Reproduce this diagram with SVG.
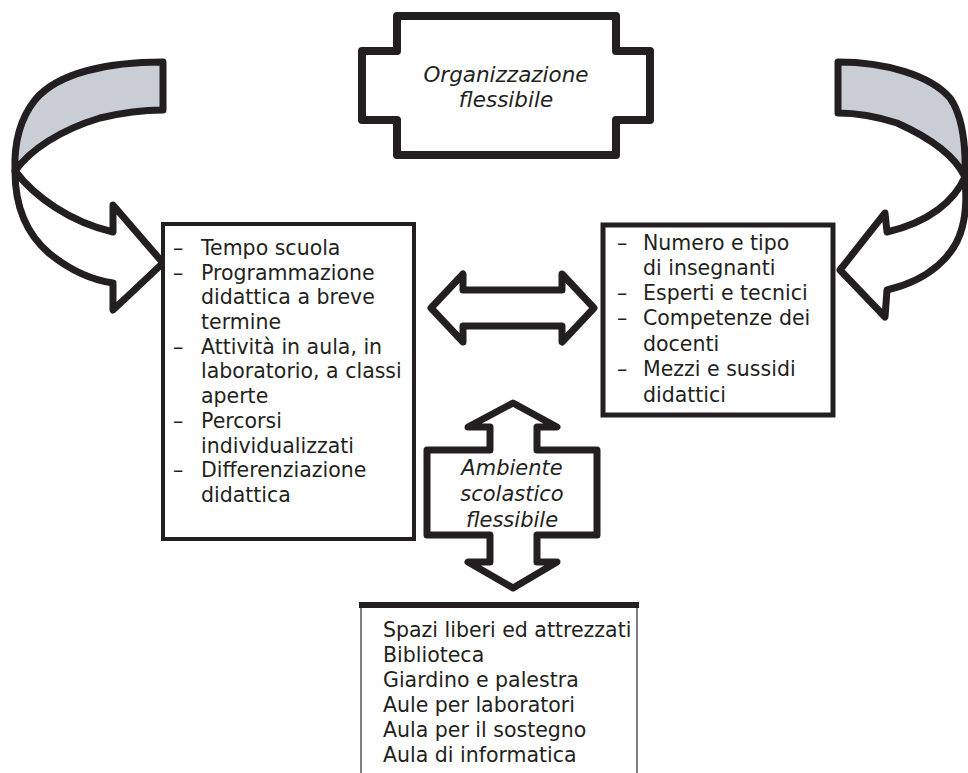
<svg xmlns="http://www.w3.org/2000/svg" width="968" height="773" viewBox="0 0 968 773">
  <style>
    .shape { fill: #ffffff; stroke: #231f20; stroke-linejoin: round; stroke-linecap: round; }
    .back { fill: #c9cdd5; stroke: #231f20; stroke-width: 7; stroke-linejoin: round; }
    .front { fill: #ffffff; stroke: #231f20; stroke-width: 7; stroke-linejoin: round; }
    .box { fill: #ffffff; stroke: #231f20; }
    text { font-family: "DejaVu Sans", "Open Sans", sans-serif; font-size: 20.5px; fill: #231f20; }
    .title { font-style: italic; text-anchor: middle; font-size: 21px; }
    .big { font-size: 21.5px; }
  </style>

  <!-- curved ribbon arrows -->
  <g id="curve-left">
    <path class="back" d="M163,62 C110,62 58,72 35,100 C19,120 14,145 15,171 C30,150 60,130 100,118 C125,112 145,110 163,110 Z"/>
    <path class="front" d="M15,171 C35,197 70,222 113,232 L113,205 L163,263 L113,310 L113,283 C92,280 70,270 50,254 C26,234 15,205 15,171 Z"/>
  </g>
  <g id="curve-right">
    <path class="back" d="M838,62 C885,62 930,75 950,98 C962,115 966,145 965,177 C956,158 935,140 897,123 C875,116 855,113 838,113 Z"/>
    <path class="front" d="M965,177 C955,200 930,222 887,232 L885,213 L840,270 L885,317 L887,290 C930,280 955,255 962,228 C967,210 966,192 965,177 Z"/>
  </g>

  <!-- title plaque -->
  <g id="organizzazione">
    <path class="shape" stroke-width="8" d="M397,16 L616,16 L616,51 L650,51 L650,120 L616,120 L616,155 L397,155 L397,120 L362,120 L362,51 L397,51 Z"/>
    <text class="title big" x="506" y="82">Organizzazione</text>
    <text class="title big" x="506" y="107">flessibile</text>
  </g>

  <!-- left list box -->
  <g id="attivita">
    <rect class="box" x="163" y="224" width="251" height="315" stroke-width="4"/>
    <text x="173" y="255">–</text><text x="201" y="255">Tempo scuola</text>
    <text x="173" y="280">–</text><text x="201" y="280">Programmazione</text>
    <text x="201" y="304">didattica a breve</text>
    <text x="201" y="329">termine</text>
    <text x="173" y="354">–</text><text x="201" y="354">Attività in aula, in</text>
    <text x="201" y="378">laboratorio, a classi</text>
    <text x="201" y="403">aperte</text>
    <text x="173" y="428">–</text><text x="201" y="428">Percorsi</text>
    <text x="201" y="453">individualizzati</text>
    <text x="173" y="477">–</text><text x="201" y="477">Differenziazione</text>
    <text x="201" y="502">didattica</text>
  </g>

  <!-- right list box -->
  <g id="risorse">
    <rect class="box" x="603" y="225" width="230" height="190" stroke-width="5"/>
    <text x="617" y="250">–</text><text x="643" y="250">Numero e tipo</text>
    <text x="643" y="275">di insegnanti</text>
    <text x="617" y="300">–</text><text x="643" y="300">Esperti e tecnici</text>
    <text x="617" y="325">–</text><text x="643" y="325">Competenze dei</text>
    <text x="643" y="351">docenti</text>
    <text x="617" y="376">–</text><text x="643" y="376">Mezzi e sussidi</text>
    <text x="643" y="402">didattici</text>
  </g>

  <!-- environment node with vertical double arrow -->
  <g id="ambiente">
    <path class="shape" stroke-width="7" d="M513,403 L557,427 L537,427 L537,450 L597,450 L597,535 L537,535 L537,562 L557,562 L513,588 L468,562 L490,562 L490,535 L427,535 L427,450 L490,450 L490,427 L468,427 Z"/>
    <text class="title" x="512" y="475">Ambiente</text>
    <text class="title" x="512" y="501">scolastico</text>
    <text class="title" x="512" y="527">flessibile</text>
  </g>

  <!-- bottom list box (open at the bottom) -->
  <g id="spazi">
    <line x1="361" y1="605" x2="361" y2="773" stroke="#555" stroke-width="1.5"/>
    <line x1="637" y1="605" x2="637" y2="773" stroke="#555" stroke-width="1.5"/>
    <line x1="359" y1="605" x2="639" y2="605" stroke="#231f20" stroke-width="6"/>
    <text x="383" y="637">Spazi liberi ed attrezzati</text>
    <text x="383" y="662">Biblioteca</text>
    <text x="383" y="687">Giardino e palestra</text>
    <text x="383" y="712">Aule per laboratori</text>
    <text x="383" y="737">Aula per il sostegno</text>
    <text x="383" y="762">Aula di informatica</text>
  </g>

  <!-- connectors -->
  <g id="connectors">
    <path class="shape" stroke-width="7" d="M431,308 L463,274 L463,290 L562,290 L562,274 L594,308 L562,342 L562,326 L463,326 L463,342 Z"/>
  </g>
</svg>
